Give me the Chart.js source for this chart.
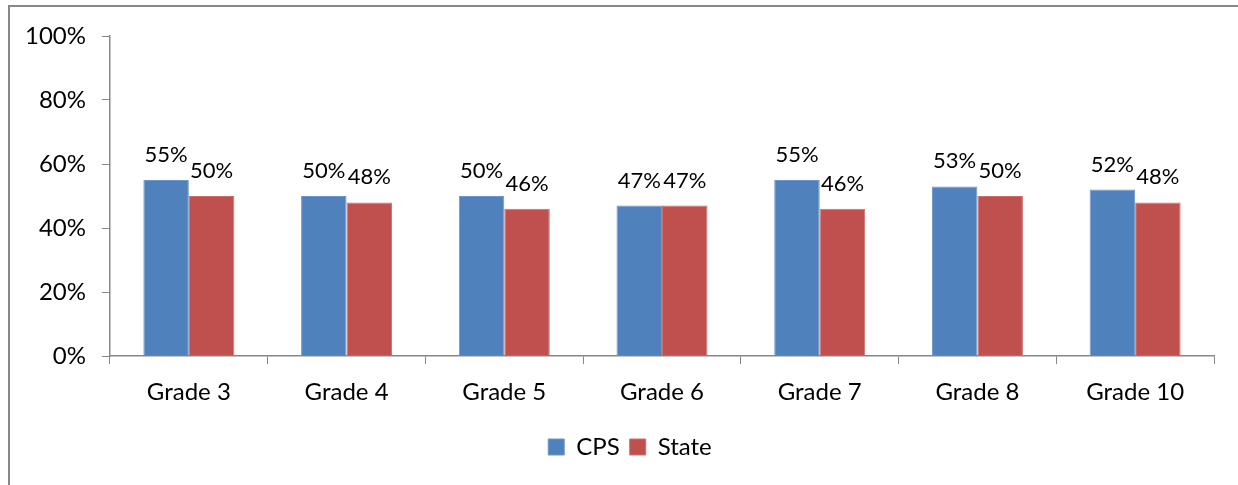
<!DOCTYPE html>
<html>
<head>
<meta charset="utf-8">
<script src="https://cdn.jsdelivr.net/npm/chart.js@4"></script>
<style>
html,body{margin:0;padding:0;background:#fff;}
#wrap{position:relative;width:1238px;height:485px;}
#frame{position:absolute;left:8px;top:5px;width:1240px;height:490px;border-left:2px solid #878787;border-top:2px solid #878787;}
canvas{position:absolute;left:0;top:0;}
</style>
</head>
<body>
<div id="wrap"><div id="frame"></div><canvas id="c" width="1238" height="485"></canvas></div>
<script>
const categories = ["Grade 3","Grade 4","Grade 5","Grade 6","Grade 7","Grade 8","Grade 10"];
const cpsValues = [55, 50, 50, 47, 55, 53, 52];
const stateValues = [50, 48, 46, 47, 46, 50, 48];
const yTicks = [0, 20, 40, 60, 80, 100];

const FONT = "Lato, 'Liberation Sans', sans-serif";

const labelPlugin = {
  id: 'valueLabels',
  afterLayout(chart) {
    if (chart.legend) { chart.legend.left = 46; }
  },
  afterDatasetsDraw(chart) {
    const ctx = chart.ctx;
    ctx.save();
    ctx.font = "22px " + FONT;
    ctx.fillStyle = "#000";
    ctx.textAlign = "center";
    ctx.textBaseline = "alphabetic";
    chart.data.datasets.forEach((ds, i) => {
      chart.getDatasetMeta(i).data.forEach((bar, j) => {
        ctx.fillText(ds.data[j] + "%", bar.x, bar.y - 18);
      });
    });
    ctx.restore();
  }
};

new Chart(document.getElementById('c'), {
  type: 'bar',
  data: {
    labels: categories,
    datasets: [
      {label: 'CPS', data: cpsValues, backgroundColor: '#4F81BD', borderColor: '#6E96C8', borderWidth: 1, categoryPercentage: 0.577, barPercentage: 1},
      {label: 'State', data: stateValues, backgroundColor: '#C0504D', borderColor: '#CC706D', borderWidth: 1, categoryPercentage: 0.577, barPercentage: 1}
    ]
  },
  options: {
    responsive: false,
    animation: false,
    layout: {padding: {top: 36, right: 24, bottom: 16, left: 0}},
    plugins: {
      legend: {
        position: 'bottom',
        labels: {font: {size: 24, family: FONT}, color: '#000', boxWidth: 16, boxHeight: 16, padding: 10}
      },
      tooltip: {enabled: false}
    },
    scales: {
      y: {
        min: 0, max: 100,
        afterFit(s) { s.width = 110; },
        afterBuildTicks(s) { s.ticks = yTicks.map(v => ({value: v})); },
        ticks: {font: {size: 24, family: FONT}, color: '#000', padding: 16, callback: v => v + '%'},
        grid: {display: true, drawOnChartArea: false, drawTicks: true, tickLength: 8, color: '#878787'},
        border: {display: true, color: '#878787', width: 1.5}
      },
      x: {
        afterFit(s) { s.height = 69; },
        ticks: {font: {size: 24, family: FONT}, color: '#000', padding: 14},
        grid: {display: true, offset: true, drawOnChartArea: false, drawTicks: true, tickLength: 8, color: '#878787'},
        border: {display: true, color: '#878787', width: 1.5}
      }
    }
  },
  plugins: [labelPlugin]
});
</script>
</body>
</html>
